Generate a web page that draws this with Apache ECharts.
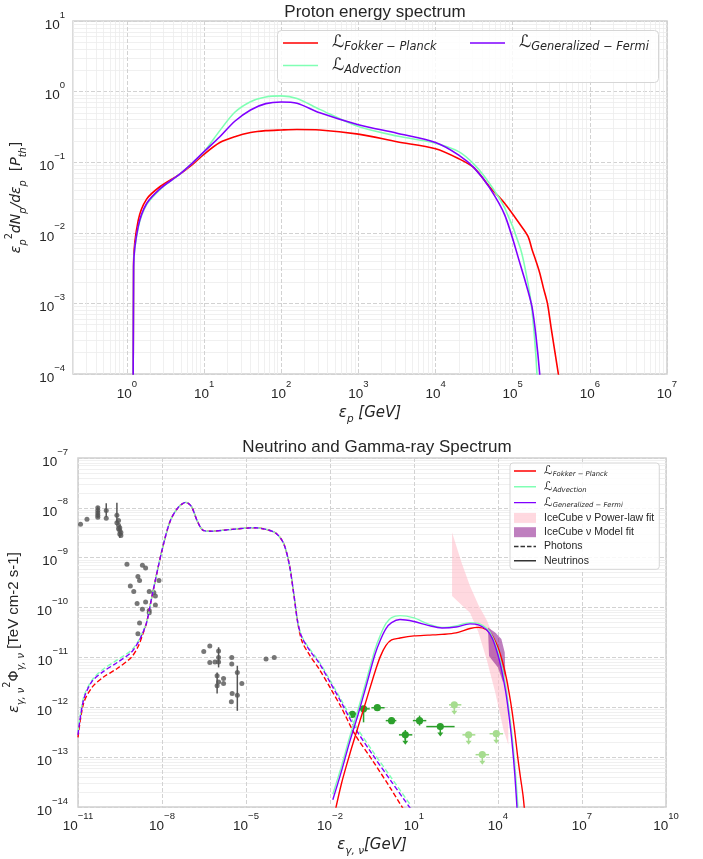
<!DOCTYPE html>
<html>
<head>
<meta charset="utf-8">
<script src="https://cdn.jsdelivr.net/npm/echarts@6/dist/echarts.min.js"></script>
<style>
  html, body { margin: 0; padding: 0; background: #fff; }
  #chart { width: 703px; height: 859px; }
</style>
</head>
<body>
<div id="chart"></div>
<script>
const TXT = '#262626';
const RED = '#ff0000', MINT = '#80ffb4', VIOLET = '#8000ff';
const PINK = 'rgba(255,192,203,0.6)', PURPLE_FILL = 'rgba(128,0,128,0.5)';
const GRAY = '#555555', DKGREEN = '#2ca02c', LTGREEN = '#a6dc8f';

// ---- proton energy spectrum (top panel) ----
const protonE = [1.2, 1.22, 1.4, 1.8, 2.75, 4.7, 7.1, 10, 16, 25, 40, 63, 100, 160, 316, 1000, 3160,
  1e4, 2e4, 3.16e4, 5e4, 7.9e4, 1.26e5, 1.58e5, 1.78e5, 2e5, 2.24e5, 2.5e5, 2.82e5, 3.16e5, 4e5];
const protonFP = [1e-6, 3.7e-3, 0.015, 0.030, 0.046, 0.066, 0.093, 0.13, 0.19, 0.23, 0.263, 0.28, 0.286, 0.29, 0.286, 0.25, 0.195,
  0.155, 0.112, 0.083, 0.045, 0.026, 0.0129, 8.9e-3, 5.8e-3, 4.0e-3, 2.7e-3, 1.66e-3, 1e-3, 4.4e-4, 8.5e-5];
const protonADV = [1e-6, 3.3e-3, 0.0117, 0.025, 0.042, 0.066, 0.098, 0.141, 0.28, 0.51, 0.72, 0.84, 0.87, 0.80, 0.56, 0.32, 0.235,
  0.186, 0.141, 0.093, 0.050, 0.0224, 6.0e-3, 1.9e-3, 7.9e-4, 1.78e-4, 1.6e-5, null, null, null, null];
const protonGF = [1e-6, 3.3e-3, 0.0123, 0.026, 0.043, 0.066, 0.098, 0.141, 0.229, 0.38, 0.55, 0.676, 0.714, 0.684, 0.50, 0.339, 0.257,
  0.19, 0.126, 0.083, 0.0437, 0.0178, 3.5e-3, 1.5e-3, 8.9e-4, 3.5e-4, 1e-4, 2e-5, null, null, null];

// ---- neutrino spectra (bottom panel, solid) ----
const nuE = [0.0126, 0.0251, 0.0501, 0.1, 0.2, 0.398, 0.631, 1, 1.58, 3.16, 10, 31.6, 100, 316, 1000, 2000,
  3980, 6310, 1e4, 1.26e4, 1.58e4, 2e4, 2.51e4, 3.16e4, 3.98e4, 5.01e4, 6.31e4, 7.94e4, 1e5];
const nuFP = [5e-15, 2.8e-14, 1.12e-13, 4e-13, 1.41e-12, 5e-12, 1.05e-11, 1.74e-11, 2.24e-11, 2.45e-11, 2.7e-11, 2.8e-11, 2.9e-11, 3.1e-11, 3.8e-11, 4e-11,
  3.55e-11, 2.7e-11, 1.58e-11, 1.07e-11, 6.8e-12, 3.8e-12, 1.9e-12, 8.5e-13, 3.2e-13, 1.05e-13, 4e-14, 1.6e-14, 4e-15];
const nuADV = [1.8e-14, 6.3e-14, 2.5e-13, 8.9e-13, 3.5e-12, 1.4e-11, 2.8e-11, 4.8e-11, 6.3e-11, 6.9e-11, 6.2e-11, 4.7e-11, 4e-11, 4.3e-11, 5e-11, 4.8e-11,
  3.8e-11, 2.6e-11, 1.32e-11, 7.9e-12, 4.4e-12, 2.1e-12, 8.3e-13, 2.8e-13, 7.1e-14, 1.26e-14, 1.6e-15, null, null];
const nuGF = [1.4e-14, 5e-14, 2e-13, 7.1e-13, 2.8e-12, 1.12e-11, 2.24e-11, 3.8e-11, 5e-11, 5.75e-11, 5.25e-11, 4.4e-11, 3.9e-11, 4.07e-11, 4.7e-11, 4.5e-11,
  3.55e-11, 2.4e-11, 1.12e-11, 6.6e-12, 3.55e-12, 1.66e-12, 6.3e-13, 2e-13, 4.5e-14, 6.3e-15, null, null, null];

// ---- photon spectra (bottom panel, dashed) ----
const phE = [1e-11, 1.58e-11, 3.16e-11, 7.94e-11, 2.51e-10, 7.94e-10, 1.41e-9, 2e-9, 2.82e-9, 4.47e-9, 1e-8, 2e-8, 3.98e-8, 7.08e-8,
  1.12e-7, 1.78e-7, 2.82e-7, 5.01e-7, 3.16e-6, 2e-5, 6.31e-5, 1.26e-4, 2.24e-4, 3.55e-4, 5.01e-4, 7.08e-4, 1e-3, 2e-3, 3.98e-3,
  0.01, 0.0251, 0.0794, 0.316, 1.58, 7.94];
const phFP = [2.5e-13, 1.2e-12, 2.5e-12, 4e-12, 6e-12, 1e-11, 1.66e-11, 2.8e-11, 5e-11, 1.78e-10, 1.41e-9, 5.6e-9, 1.05e-8, 1.29e-8,
  1.07e-8, 5.6e-9, 3.6e-9, 3.4e-9, 3.7e-9, 4e-9, 3.6e-9, 3e-9, 1.9e-9, 7.1e-10, 2e-10, 5e-11, 2.1e-11, 1.05e-11, 6e-12,
  2.5e-12, 1e-12, 2.8e-13, 8.9e-14, 2.2e-14, 5e-15];
const phADV = [3.2e-13, 1.58e-12, 3.5e-12, 5.8e-12, 8.9e-12, 1.38e-11, 2.1e-11, 3.2e-11, 5e-11, 1.78e-10, 1.41e-9, 5.6e-9, 1.05e-8, 1.29e-8,
  1.07e-8, 5.6e-9, 3.6e-9, 3.4e-9, 3.7e-9, 4e-9, 3.6e-9, 3e-9, 1.9e-9, 7.1e-10, 2e-10, 5e-11, 2.6e-11, 1.41e-11, 8.5e-12,
  3.5e-12, 1.41e-12, 4.4e-13, 1.38e-13, 3.8e-14, 1.05e-14];
const phGF = [2.8e-13, 1.41e-12, 3.3e-12, 5.2e-12, 7.9e-12, 1.26e-11, 2e-11, 3e-11, 5e-11, 1.78e-10, 1.41e-9, 5.6e-9, 1.05e-8, 1.29e-8,
  1.07e-8, 5.6e-9, 3.6e-9, 3.4e-9, 3.7e-9, 4e-9, 3.6e-9, 3e-9, 1.9e-9, 7.1e-10, 2e-10, 5e-11, 2.5e-11, 1.32e-11, 7.9e-12,
  3.2e-12, 1.26e-12, 3.8e-13, 1.17e-13, 3.2e-14, 8.9e-15];

// ---- IceCube bands ----
const plE = [229, 501, 1000, 2000, 3980, 7940, 15800, 23400];
const plHi = [3.2e-9, 7.9e-10, 2.7e-10, 1.12e-10, 5.6e-11, 2.2e-11, 6.3e-12, 3.2e-12];
const plLo = [1.7e-10, 1.12e-10, 7.9e-11, 3.2e-11, 8.9e-12, 2e-12, 3.5e-13, 1.78e-13];
const mfE = [4370, 7940, 13200, 17400, 18200, 15100, 10000, 5750, 4790];
const mfF = [3.98e-11, 3.16e-11, 2.34e-11, 1.26e-11, 5e-12, 3.16e-12, 6.3e-12, 9.3e-12, 1.07e-11];

// ---- archival photon data (gray) ----
const grayE = [1.23e-11, 2.09e-11, 5.1e-11, 5.1e-11, 5.1e-11, 5.1e-11, 5.1e-11, 1.02e-10, 1.02e-10,
  2.45e-10, 2.45e-10, 2.8e-10, 2.8e-10, 2.8e-10, 3.1e-10, 3.1e-10, 3.1e-10, 3.4e-10, 3.4e-10,
  5.6e-10, 2e-9, 2.6e-9, 1.38e-9, 1.58e-9, 7.4e-10, 9.8e-10, 7.8e-9, 3.5e-9, 5.1e-9, 5.8e-9, 1.29e-9, 2.6e-9, 5.8e-9, 2e-9, 3.5e-9, 3.5e-9, 1.58e-9, 1.38e-9,
  3.1e-7, 5.1e-7, 5.1e-7, 7.8e-7, 1.05e-6, 1.05e-6, 1.05e-6, 9.3e-7, 1.05e-6, 9.3e-7, 1.58e-6, 1.58e-6, 3.1e-6, 3.1e-6, 3.2e-6, 4.9e-6, 3e-6, 4.9e-6, 7.1e-6, 5.2e-5, 1.02e-4];
const grayF = [4.7e-9, 5.9e-9, 1.0e-8, 8.9e-9, 7.9e-9, 7.1e-9, 6.5e-9, 8.9e-9, 6.2e-9,
  7.1e-9, 5.0e-9, 5.6e-9, 4.5e-9, 3.8e-9, 4.0e-9, 3.5e-9, 3.0e-9, 3.2e-9, 2.8e-9,
  7.4e-10, 7.1e-10, 6.2e-10, 4.2e-10, 3.5e-10, 2.7e-10, 2.1e-10, 3.5e-10, 2.1e-10, 2e-10, 1.7e-10, 1.2e-10, 1.29e-10, 1.12e-10, 9.3e-11, 8.7e-11, 7.9e-11, 4.9e-11, 3e-11,
  1.32e-11, 1.7e-11, 7.9e-12, 8.1e-12, 1.35e-11, 1e-11, 8.1e-12, 4.3e-12, 3.2e-12, 2.7e-12, 3.8e-12, 3e-12, 1e-11, 7.4e-12, 1.9e-12, 1.74e-12, 1.29e-12, 5e-12, 3e-12, 9.3e-12, 1e-11];
const grayErrE = [5.1e-11, 1.02e-10, 2.45e-10, 3.1e-10, 9.3e-7, 1.05e-6, 4.9e-6];
const grayErrLo = [6.3e-9, 6.5e-9, 5e-9, 2.5e-9, 1.9e-12, 6.3e-12, 8.5e-13];
const grayErrHi = [1.07e-8, 1.23e-8, 1.26e-8, 4.5e-9, 5e-12, 1.6e-11, 6.8e-12];

// ---- gamma-ray points (green): value, x-range, y-range (0 = none), upper limit flag ----
const greenE = [0.063, 0.158, 0.49, 1.58, 4.9, 15.8, 87];
const greenF = [7.2e-13, 9.3e-13, 9.8e-13, 5.4e-13, 2.8e-13, 5.4e-13, 4.1e-13];
const greenElo = [0.048, 0.1, 0.30, 0.98, 2.9, 9.1, 27.5];
const greenEhi = [0.087, 0.263, 0.89, 2.34, 8.7, 27.5, 282];
const greenFlo = [0, 5e-13, 0, 0, 2.2e-13, 4.3e-13, 0];
const greenFhi = [0, 1.0e-12, 0, 0, 3.5e-13, 6.8e-13, 0];
const greenUL = [0, 0, 0, 0, 1, 0, 1];
const ulE = [275, 891, 2750, 8700];
const ulF = [1.12e-12, 2.8e-13, 1.12e-13, 2.95e-13];
const ulElo = [178, 537, 1580, 5010];
const ulEhi = [490, 1550, 4790, 15100];

// ---- tick labels ----
const topXTicks = [1, 10, 100, 1e3, 1e4, 1e5, 1e6, 1e7];
const topYTicks = [1e-4, 1e-3, 1e-2, 1e-1, 1, 10];
const botXTicks = [1e-11, 1e-8, 1e-5, 1e-2, 10, 1e4, 1e7, 1e10];
const botYTicks = [1e-14, 1e-13, 1e-12, 1e-11, 1e-10, 1e-9, 1e-8, 1e-7];

function minorValues(lo, hi) {
  const out = [];
  for (let e = lo; e < hi; e++) for (let m = 2; m <= 9; m++) out.push(m * Math.pow(10, e));
  return out;
}
const zip = (xs, ys) => xs.map((x, i) => [x, ys[i]]);

function powLabel(v) {
  const e = Math.round(Math.log10(v));
  return '{b|10}{s|' + (e < 0 ? '\u2212' + (-e) : e) + '}';
}
const tickRich = {
  b: { fontFamily: 'Liberation Sans', fontSize: 13.5, color: TXT, lineHeight: 22, verticalAlign: 'bottom' },
  s: { fontFamily: 'Liberation Sans', fontSize: 9.5, color: TXT, lineHeight: 12, verticalAlign: 'top' }
};
function mathRich(f, h) {
  const base = { fontFamily: 'DejaVu Sans', color: TXT, fontSize: f, lineHeight: h };
  return {
    i: Object.assign({}, base, { fontStyle: 'italic' }),
    n: Object.assign({}, base),
    t: Object.assign({}, base, { fontFamily: 'Liberation Sans', fontSize: f + 1 }),
    sub: Object.assign({}, base, { fontStyle: 'italic', fontSize: f * 0.7, lineHeight: h / 2 + 2, verticalAlign: 'bottom' }),
    sup: Object.assign({}, base, { fontSize: f * 0.7, lineHeight: h / 2 + 2, verticalAlign: 'top' })
  };
}

function mainAxis(gridIndex, min, max, ticks, margin, extra) {
  return Object.assign({
    type: 'log', gridIndex, min, max,
    axisLine: { show: false },
    axisTick: { show: false, customValues: ticks },
    axisLabel: { customValues: ticks, formatter: powLabel, rich: tickRich, margin },
    splitLine: { show: true, lineStyle: { color: '#d2d2d2', type: [4, 2], width: 1 } }
  }, extra);
}
function minorAxis(gridIndex, min, max, vals, position) {
  return {
    type: 'log', gridIndex, min, max, position,
    axisLine: { show: false }, axisLabel: { show: false },
    axisTick: { show: false, customValues: vals },
    splitLine: { show: true, lineStyle: { color: '#ececec', width: 0.8 } }
  };
}

const legendNames = {
  p_fp: '{L|\u2112}{sub|Fokker \u2212 Planck}',
  p_adv: '{L|\u2112}{sub|Advection}',
  p_gf: '{L|\u2112}{sub|Generalized \u2212 Fermi}',
  n_fp: '{L|\u2112}{sub|Fokker \u2212 Planck}',
  n_adv: '{L|\u2112}{sub|Advection}',
  n_gf: '{L|\u2112}{sub|Generalized \u2212 Fermi}',
  pl: '{t|IceCube \u03bd Power-law fit}',
  mf: '{t|IceCube \u03bd Model fit}',
  ph: '{t|Photons}',
  nu: '{t|Neutrinos}'
};
const bigLegRich = {
  L: { fontFamily: 'DejaVu Sans', fontSize: 17, color: TXT, lineHeight: 20, padding: [0, 0, 0, 9] },
  sub: { fontFamily: 'DejaVu Sans', fontStyle: 'italic', fontSize: 11.4, color: TXT, lineHeight: 12, verticalAlign: 'bottom' }
};
const smallLegRich = {
  L: { fontFamily: 'DejaVu Sans', fontSize: 12, color: TXT, lineHeight: 13, padding: [0, 0, 0, 3] },
  sub: { fontFamily: 'DejaVu Sans', fontStyle: 'italic', fontSize: 6.8, color: TXT, lineHeight: 8, verticalAlign: 'bottom' },
  t: { fontFamily: 'Liberation Sans', fontSize: 10.5, color: TXT, lineHeight: 13, padding: [0, 0, 0, 3] }
};
// legend glyphs: thin bar (with invisible corner specks so the bar keeps its thickness)
const BIG_LINE = 'path://M0,0h0.01v0.01h-0.01zM0,13.99h0.01v0.01h-0.01zM0,6.2h35v1.6h-35z';
const SMALL_LINE = 'path://M0,0h0.01v0.01h-0.01zM0,9.99h0.01v0.01h-0.01zM0,4.3h22v1.4h-22z';
const SMALL_DASH = 'path://M0,0h0.01v0.01h-0.01zM0,9.99h0.01v0.01h-0.01zM0,4.3h4.5v1.4h-4.5zM6.5,4.3h4.5v1.4h-4.5zM13,4.3h4.5v1.4h-4.5zM19.5,4.3h2.5v1.4h-2.5z';

function lineSeries(name, xi, yi, xs, ys, color, width, dashed) {
  return {
    name, type: 'line', xAxisIndex: xi, yAxisIndex: yi, data: zip(xs, ys),
    symbol: 'none', smooth: 0.3, clip: true, z: 3,
    lineStyle: { color, width, type: dashed ? [5, 2.5] : 'solid' },
    itemStyle: { color }
  };
}

function bandRender(xs, hi, lo, fill) {
  return function (params, api) {
    if (params.dataIndex !== 0) return null;
    const pts = [];
    for (let i = 0; i < xs.length; i++) pts.push(api.coord([xs[i], hi[i]]));
    if (lo) for (let i = xs.length - 1; i >= 0; i--) pts.push(api.coord([xs[i], lo[i]]));
    return { type: 'polygon', shape: { points: pts }, style: { fill } };
  };
}

function pointRender(color) {
  return function (params, api) {
    const x = api.value(0), y = api.value(1);
    const c = api.coord([x, y]);
    const l = api.coord([api.value(2), y]);
    const r = api.coord([api.value(3), y]);
    const kids = [{ type: 'line', shape: { x1: l[0], y1: c[1], x2: r[0], y2: c[1] }, style: { stroke: color, lineWidth: 1.5 } }];
    if (api.value(4) > 0) {
      const lo = api.coord([x, api.value(4)]), hi = api.coord([x, api.value(5)]);
      kids.push({ type: 'line', shape: { x1: c[0], y1: hi[1], x2: c[0], y2: lo[1] }, style: { stroke: color, lineWidth: 1.5 } });
    }
    if (api.value(6) > 0) {
      kids.push({ type: 'line', shape: { x1: c[0], y1: c[1], x2: c[0], y2: c[1] + 7 }, style: { stroke: color, lineWidth: 1.5 } });
      kids.push({ type: 'polygon', shape: { points: [[c[0] - 3, c[1] + 6], [c[0] + 3, c[1] + 6], [c[0], c[1] + 10]] }, style: { fill: color } });
    }
    kids.push({ type: 'circle', shape: { cx: c[0], cy: c[1], r: 3.6 }, style: { fill: color } });
    return { type: 'group', children: kids };
  };
}

const chart = echarts.init(document.getElementById('chart'), null, { renderer: 'canvas' });

const option = {
  animation: false,
  backgroundColor: '#ffffff',
  title: [
    { text: 'Proton energy spectrum', left: 370, top: -1, textAlign: 'center',
      textStyle: { fontFamily: 'Liberation Sans', fontSize: 17, fontWeight: 'normal', color: TXT } },
    { text: 'Neutrino and Gamma-ray Spectrum', left: 372, top: 434, textAlign: 'center',
      textStyle: { fontFamily: 'Liberation Sans', fontSize: 17, fontWeight: 'normal', color: TXT } }
  ],
  grid: [
    { left: 73, top: 21, width: 594, height: 353, show: true, containLabel: false, outerBoundsMode: 'none',
      borderColor: '#cfcfcf', borderWidth: 1.5, backgroundColor: 'transparent' },
    { left: 78, top: 458, width: 588, height: 349, show: true, containLabel: false, outerBoundsMode: 'none',
      borderColor: '#cfcfcf', borderWidth: 1.5, backgroundColor: 'transparent' }
  ],
  xAxis: [
    mainAxis(0, 0.2, 1e7, topXTicks, 5, {
      name: '{i|\u03b5}{sub|p}{i| [GeV]}', nameLocation: 'middle', nameGap: 27,
      nameTextStyle: { rich: mathRich(15, 24) }
    }),
    mainAxis(1, 1e-11, 1e10, botXTicks, 4, {
      name: '{i|\u03b5}{sub|\u03b3, \u03bd}{i|[GeV]}', nameLocation: 'middle', nameGap: 26,
      nameTextStyle: { rich: mathRich(15, 24) }
    }),
    minorAxis(0, 0.2, 1e7, minorValues(-1, 7), 'top')
  ],
  yAxis: [
    mainAxis(0, 1e-4, 10, topYTicks, 8, {
      name: '{i|\u03b5}{sub|p}{sup|2}{i|dN}{sub|p}{i|/d\u03b5}{sub|p}{n|  [}{i|P}{sub|th}{n|]}',
      nameLocation: 'middle', nameGap: 40, nameRotate: 90,
      nameTextStyle: { rich: mathRich(14, 24) }
    }),
    mainAxis(1, 1e-14, 1e-7, botYTicks, 10, {
      name: '{i|\u03b5}{sub|\u03b3, \u03bd}{sup|2}{n|\u03a6}{sub|\u03b3, \u03bd}{t| [TeV cm-2 s-1]}',
      nameLocation: 'middle', nameGap: 47, nameRotate: 90,
      nameTextStyle: { rich: mathRich(14, 24) }
    }),
    minorAxis(0, 1e-4, 10, minorValues(-4, 1), 'right'),
    minorAxis(1, 1e-14, 1e-7, minorValues(-14, -7), 'right')
  ],
  legend: [
    { data: [{ name: 'p_fp', icon: BIG_LINE }, { name: 'p_adv', icon: BIG_LINE }], orient: 'vertical', left: 283, top: 34.5, padding: 0, itemGap: 4,
      itemWidth: 35, itemHeight: 14, selectedMode: false, itemStyle: { borderWidth: 0 },
      formatter: n => legendNames[n], textStyle: { rich: bigLegRich } },
    { data: [{ name: 'p_gf', icon: BIG_LINE }], orient: 'vertical', left: 470, top: 34.5, padding: 0,
      itemWidth: 35, itemHeight: 14, selectedMode: false, itemStyle: { borderWidth: 0 },
      formatter: n => legendNames[n], textStyle: { rich: bigLegRich } },
    { data: [
        { name: 'n_fp', icon: SMALL_LINE }, { name: 'n_adv', icon: SMALL_LINE }, { name: 'n_gf', icon: SMALL_LINE },
        { name: 'pl', icon: 'rect' }, { name: 'mf', icon: 'rect' },
        { name: 'ph', icon: SMALL_DASH }, { name: 'nu', icon: SMALL_LINE }],
      orient: 'vertical', left: 510, top: 463, padding: [2, 5, 3, 4], itemGap: 3.3,
      backgroundColor: 'rgba(255,255,255,0.85)', borderColor: '#d6d6d6', borderWidth: 1, borderRadius: 3,
      itemWidth: 22, itemHeight: 10, selectedMode: false, itemStyle: { borderWidth: 0 },
      formatter: n => legendNames[n], textStyle: { rich: smallLegRich } }
  ],
  graphic: [
    { type: 'rect', left: 277, top: 30, z: 3,
      shape: { width: 381, height: 52, r: 4 },
      style: { fill: 'rgba(255,255,255,0.85)', stroke: '#d6d6d6', lineWidth: 1 } }
  ],
  series: [
    lineSeries('p_fp', 0, 0, protonE, protonFP, RED, 1.6),
    lineSeries('p_adv', 0, 0, protonE, protonADV, MINT, 1.6),
    lineSeries('p_gf', 0, 0, protonE, protonGF, VIOLET, 1.6),

    { name: 'pl', type: 'custom', xAxisIndex: 1, yAxisIndex: 1, clip: true, z: 1,
      data: zip(plE, plHi), encode: { x: 0, y: 1 }, itemStyle: { color: PINK },
      renderItem: bandRender(plE, plHi, plLo, PINK) },
    { name: 'mf', type: 'custom', xAxisIndex: 1, yAxisIndex: 1, clip: true, z: 1,
      data: zip(mfE, mfF), encode: { x: 0, y: 1 }, itemStyle: { color: PURPLE_FILL },
      renderItem: bandRender(mfE, mfF, null, PURPLE_FILL) },

    { name: 'gray_err', type: 'custom', xAxisIndex: 1, yAxisIndex: 1, clip: true, z: 2,
      data: grayErrE.map((e, i) => [e, grayErrLo[i], grayErrHi[i]]), encode: { x: 0, y: [1, 2] },
      renderItem: function (params, api) {
        const lo = api.coord([api.value(0), api.value(1)]);
        const hi = api.coord([api.value(0), api.value(2)]);
        return { type: 'line', shape: { x1: lo[0], y1: lo[1], x2: hi[0], y2: hi[1] }, style: { stroke: GRAY, lineWidth: 1.5 } };
      } },
    { name: 'gray', type: 'scatter', xAxisIndex: 1, yAxisIndex: 1, z: 2,
      data: zip(grayE, grayF), symbolSize: 5, itemStyle: { color: GRAY } },

    { name: 'fermi', type: 'custom', xAxisIndex: 1, yAxisIndex: 1, clip: true, z: 2,
      data: greenE.map((e, i) => [e, greenF[i], greenElo[i], greenEhi[i], greenFlo[i], greenFhi[i], greenUL[i]]),
      encode: { x: [0, 2, 3], y: 1 }, renderItem: pointRender(DKGREEN) },
    { name: 'fermi_ul', type: 'custom', xAxisIndex: 1, yAxisIndex: 1, clip: true, z: 2,
      data: ulE.map((e, i) => [e, ulF[i], ulElo[i], ulEhi[i], 0, 0, 1]),
      encode: { x: [0, 2, 3], y: 1 }, renderItem: pointRender(LTGREEN) },

    lineSeries('g_fp', 1, 1, phE, phFP, RED, 1.4, true),
    lineSeries('g_adv', 1, 1, phE, phADV, MINT, 1.4, true),
    lineSeries('g_gf', 1, 1, phE, phGF, VIOLET, 1.4, true),

    lineSeries('n_fp', 1, 1, nuE, nuFP, RED, 1.4),
    lineSeries('n_adv', 1, 1, nuE, nuADV, MINT, 1.4),
    lineSeries('n_gf', 1, 1, nuE, nuGF, VIOLET, 1.4),

    { name: 'ph', type: 'line', xAxisIndex: 1, yAxisIndex: 1, data: [], symbol: 'none',
      lineStyle: { color: '#333333', width: 1.5, type: [4, 2] }, itemStyle: { color: '#333333' } },
    { name: 'nu', type: 'line', xAxisIndex: 1, yAxisIndex: 1, data: [], symbol: 'none',
      lineStyle: { color: '#333333', width: 1.5 }, itemStyle: { color: '#333333' } }
  ]
};

chart.setOption(option);
</script>
</body>
</html>
